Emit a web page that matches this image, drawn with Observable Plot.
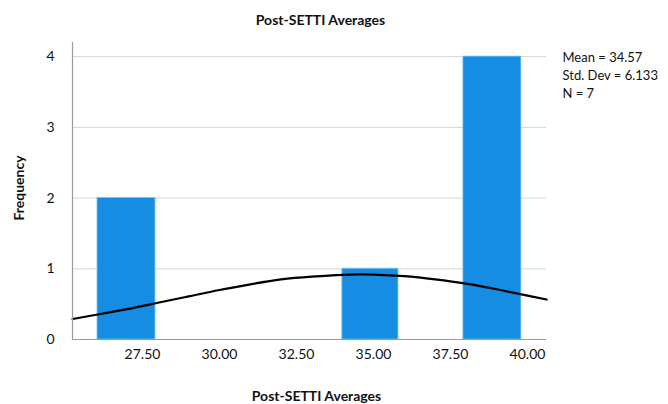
<!DOCTYPE html>
<html><head><meta charset="utf-8">
<script src="https://cdn.jsdelivr.net/npm/d3@7"></script>
<script src="https://cdn.jsdelivr.net/npm/@observablehq/plot@0.6"></script>
<style>body{margin:0;background:#fff}</style>
</head><body><div id="chart"></div>
<script>
const title = "Post-SETTI Averages";
const xLabel = "Post-SETTI Averages";
const yLabel = "Frequency";
const binStart = [26.04, 33.99, 37.92];
const binEnd = [27.92, 35.81, 39.80];
const frequency = [2, 1, 4];
const curveX = [25.23, 26, 27, 28, 29, 30, 31, 32, 33, 34, 34.57, 35, 36, 37, 38, 39, 40, 40.62];
const curveY = [0.29, 0.35, 0.43, 0.52, 0.61, 0.70, 0.78, 0.85, 0.89, 0.915, 0.92, 0.918, 0.895, 0.85, 0.79, 0.71, 0.62, 0.565];
const xTicks = [27.5, 30, 32.5, 35, 37.5, 40];
const yTicks = [0, 1, 2, 3, 4];
const xDomain = [25.227, 40.617];
const yDomain = [0, 4.2];
const statLines = ["Mean = 34.57", "Std. Dev = 6.133", "N = 7"];

const bars = binStart.map((s, i) => ({x1: s, x2: binEnd[i], y: frequency[i]}));
const curve = curveX.map((x, i) => ({x, y: curveY[i]}));

const chart = Plot.plot({
  width: 668,
  height: 404,
  marginLeft: 72,
  marginRight: 122,
  marginTop: 42,
  marginBottom: 65,
  style: {fontFamily: "Lato, 'Open Sans', sans-serif", fontSize: "13px", color: "#111", background: "#fff"},
  x: {domain: xDomain},
  y: {domain: yDomain},
  marks: [
    Plot.gridY({ticks: yTicks.filter(d => d > 0), stroke: "#d4d4d4", strokeOpacity: 1}),
    Plot.rectY(bars, {x1: "x1", x2: "x2", y: "y", fill: "#148de3", stroke: "#6fbdf0", strokeWidth: 0.8}),
    Plot.line(curve, {x: "x", y: "y", curve: "natural", stroke: "#000", strokeWidth: 2.2}),
    Plot.ruleX([xDomain[0]], {stroke: "#9a9a9a", strokeWidth: 1.2}),
    Plot.ruleY([0], {stroke: "#9a9a9a", strokeWidth: 1.2}),
    Plot.axisX({ticks: xTicks, tickFormat: d => d.toFixed(2), tickSize: 0, tickPadding: 10, label: null, fontSize: 14}),
    Plot.axisY({ticks: yTicks, tickFormat: d => String(d), tickSize: 0, tickPadding: 18, label: null, fontSize: 14}),
    Plot.text([title], {frameAnchor: "top", lineAnchor: "middle", dy: -22, dx: 11, fontWeight: "bold", fontSize: 14}),
    Plot.text([xLabel], {frameAnchor: "bottom", lineAnchor: "middle", dy: 57, dx: 7, fontWeight: "bold", fontSize: 14}),
    Plot.text([yLabel], {frameAnchor: "left", lineAnchor: "middle", textAnchor: "middle", rotate: -90, dx: -53, dy: -3, fontWeight: "bold", fontSize: 14}),
    Plot.text([statLines.join("\n")], {frameAnchor: "top-right", textAnchor: "start", lineAnchor: "top", dx: 16, dy: 7, lineHeight: 1.385, fontSize: 13})
  ]
});
document.getElementById("chart").appendChild(chart);
</script>
</body></html>
